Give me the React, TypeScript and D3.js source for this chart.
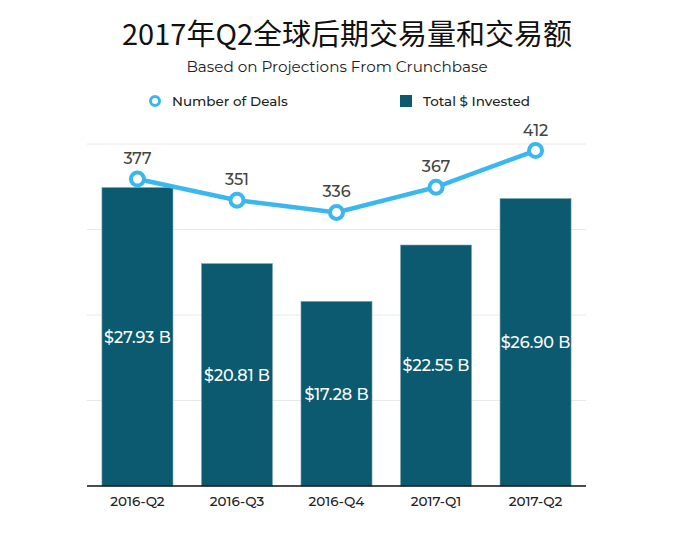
import React from "react";
import * as d3 from "d3";

const categories = ["2016-Q2", "2016-Q3", "2016-Q4", "2017-Q1", "2017-Q2"];
const invested = [27.93, 20.81, 17.28, 22.55, 26.9];
const deals = [377, 351, 336, 367, 412];
const barTicks = [0, 8, 16, 24, 32];

const W = 680;
const H = 540;
const left = 87;
const right = 586;
const top = 144;
const bottom = 486;
const barColor = "#0b5a6f";
const lineColor = "#3bb7f0";
const font = "Montserrat, 'Open Sans', Lato, sans-serif";

export default function App() {
  const x = d3.scaleBand<string>().domain(categories).range([left, right]).paddingInner(0.286).paddingOuter(0.15);
  const yBar = d3.scaleLinear().domain([0, 32]).range([bottom, top]);
  const yLine = d3.scaleLinear().domain([0, 420]).range([bottom, top]);
  const cx = (c: string) => (x(c) as number) + x.bandwidth() / 2;
  const line = d3
    .line<number>()
    .x((_, i) => cx(categories[i]))
    .y((d) => yLine(d));

  return (
    <svg width={W} height={H} style={{ position: "absolute", left: 0, top: 0, background: "#fff" }}>
      <text x={347} y={45} textAnchor="middle" fontSize={29} fontFamily="'Noto Sans CJK SC', sans-serif" fill="#111">
        2017年Q2全球后期交易量和交易额
      </text>
      <text x={337} y={72} textAnchor="middle" fontSize={15.2} fontFamily={font} fill="#222">
        Based on Projections From Crunchbase
      </text>
      {/* legend */}
      <circle cx={155} cy={101} r={4.5} fill="#fff" stroke={lineColor} strokeWidth={3} />
      <text x={172} y={106} fontSize={13.5} fontWeight={500} fontFamily={font} fill="#222">
        Number of Deals
      </text>
      <rect x={400} y={95} width={12} height={12} fill={barColor} />
      <text x={423} y={106} fontSize={13.5} fontWeight={500} fontFamily={font} fill="#222">
        Total $ Invested
      </text>
      {/* grid */}
      {barTicks.slice(1).map((t) => (
        <line key={t} x1={left} x2={right} y1={yBar(t)} y2={yBar(t)} stroke="#e8e8e8" strokeWidth={1} />
      ))}
      {/* bars */}
      {categories.map((c, i) => (
        <g key={c}>
          <rect
            x={x(c)}
            y={yBar(invested[i])}
            width={x.bandwidth()}
            height={bottom - yBar(invested[i])}
            fill={barColor}
            stroke="#7fa9b6"
            strokeWidth={0.6}
          />
          <text
            x={cx(c)}
            y={(yBar(invested[i]) + bottom) / 2 + 6}
            textAnchor="middle"
            fontSize={16}
            fontWeight={500}
            fontFamily={font}
            fill="#fff"
          >
            {"$" + invested[i].toFixed(2) + " B"}
          </text>
        </g>
      ))}
      <line x1={left} x2={right} y1={bottom} y2={bottom} stroke="#111" strokeWidth={1.5} />
      {/* line */}
      <path d={line(deals) || ""} fill="none" stroke={lineColor} strokeWidth={4.5} />
      {categories.map((c, i) => (
        <g key={c}>
          <circle cx={cx(c)} cy={yLine(deals[i])} r={6.5} fill="#fff" stroke={lineColor} strokeWidth={4} />
          <text x={cx(c)} y={yLine(deals[i]) - 15} textAnchor="middle" fontSize={16} fontWeight={500} fontFamily={font} fill="#444">
            {deals[i]}
          </text>
        </g>
      ))}
      {/* x labels */}
      {categories.map((c) => (
        <text key={c} x={cx(c)} y={506} textAnchor="middle" fontSize={13.5} fontWeight={500} fontFamily={font} fill="#222">
          {c}
        </text>
      ))}
    </svg>
  );
}
